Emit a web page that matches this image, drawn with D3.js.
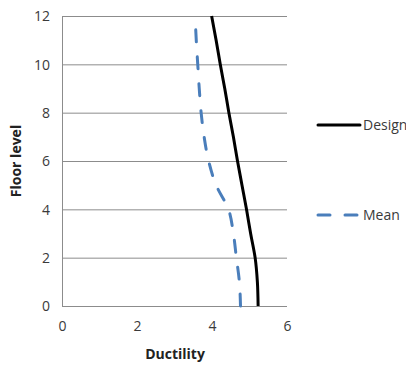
<!DOCTYPE html>
<html>
<head>
<meta charset="utf-8">
<script src="https://cdn.jsdelivr.net/npm/d3@7"></script>
<style>
  html, body { margin: 0; padding: 0; background: #fff; }
  svg { display: block; font-family: "Open Sans", Lato, sans-serif; }
</style>
</head>
<body>
<svg id="chart" width="406" height="365"></svg>
<script>
// Floor levels and ductility demand per floor
const floors = [0, 1, 2, 3, 4, 5, 6, 7, 8, 9, 10, 11, 12];
const design = [5.23, 5.21, 5.15, 5.03, 4.92, 4.8, 4.68, 4.57, 4.45, 4.34, 4.22, 4.11, 3.99];
const mean   = [4.76, 4.73, 4.65, 4.57, 4.44, 4.11, 3.91, 3.79, 3.71, 3.66, 3.62, 3.58, 3.55];
const xTicks = [0, 2, 4, 6];
const yTicks = [0, 2, 4, 6, 8, 10, 12];
const seriesNames = ["Design", "Mean"];

const svg = d3.select("#chart");
const plot = { left: 62, right: 287, top: 16, bottom: 306 };

const x = d3.scaleLinear().domain([0, 6]).range([plot.left, plot.right]);
const y = d3.scaleLinear().domain([0, 12]).range([plot.bottom, plot.top]);

const textColor = "#3a3a3a";
const font = "'Open Sans', Lato, sans-serif";

// Horizontal gridlines
svg.append("g")
  .selectAll("line")
  .data(yTicks)
  .join("line")
  .attr("x1", plot.left).attr("x2", plot.right)
  .attr("y1", d => y(d) + 0.5).attr("y2", d => y(d) + 0.5)
  .attr("stroke", "#8c8c8c").attr("stroke-width", 1);

// Vertical axis line
svg.append("line")
  .attr("x1", plot.left + 0.5).attr("x2", plot.left + 0.5)
  .attr("y1", plot.top).attr("y2", plot.bottom + 1)
  .attr("stroke", "#8c8c8c").attr("stroke-width", 1);

// Y axis labels
const yAxis = d3.axisLeft(y).tickValues(yTicks).tickFormat(d3.format("d")).tickSize(0).tickPadding(12);
const gy = svg.append("g").attr("transform", `translate(${plot.left},0.5)`).call(yAxis);
gy.select(".domain").remove();
gy.selectAll("text").attr("font-size", 14).attr("fill", textColor).attr("font-family", font);

// X axis labels
const xAxis = d3.axisBottom(x).tickValues(xTicks).tickFormat(d3.format("d")).tickSize(0).tickPadding(15);
const gx = svg.append("g").attr("transform", `translate(0,${plot.bottom})`).call(xAxis);
gx.select(".domain").remove();
gx.selectAll("text").attr("font-size", 14).attr("fill", textColor).attr("font-family", font);

// Axis titles
svg.append("text")
  .attr("x", 175).attr("y", 359)
  .attr("text-anchor", "middle")
  .attr("font-size", 14).attr("font-weight", "bold").attr("fill", "#222")
  .text("Ductility");

svg.append("text")
  .attr("transform", `translate(21,161) rotate(-90)`)
  .attr("text-anchor", "middle")
  .attr("font-size", 14).attr("font-weight", "bold").attr("fill", "#222")
  .text("Floor level");

// Profiles (floor level is the independent variable, on the vertical axis)
const line = d3.line()
  .x(d => x(d[0]))
  .y(d => y(d[1]))
  .curve(d3.curveMonotoneY);

svg.append("path")
  .datum(floors.map((f, i) => [design[i], f]))
  .attr("d", line)
  .attr("fill", "none")
  .attr("stroke", "#000")
  .attr("stroke-width", 3);

svg.append("path")
  .datum(floors.map((f, i) => [mean[i], f]))
  .attr("d", line)
  .attr("fill", "none")
  .attr("stroke", "#4a7ebb")
  .attr("stroke-width", 3)
  .attr("stroke-linecap", "round")
  .attr("stroke-dasharray", "12,15");

// Legend
const legend = [
  { name: seriesNames[0], color: "#000", dash: null, y: 125 },
  { name: seriesNames[1], color: "#4a7ebb", dash: "12,15", y: 215 }
];
const lg = svg.append("g");
legend.forEach(item => {
  lg.append("line")
    .attr("x1", 318).attr("x2", 360)
    .attr("y1", item.y).attr("y2", item.y)
    .attr("stroke", item.color).attr("stroke-width", 3)
    .attr("stroke-linecap", "round")
    .attr("stroke-dasharray", item.dash);
  lg.append("text")
    .attr("x", 363).attr("y", item.y + 5)
    .attr("font-size", 14).attr("fill", textColor).attr("font-family", font)
    .text(item.name);
});
</script>
</body>
</html>
